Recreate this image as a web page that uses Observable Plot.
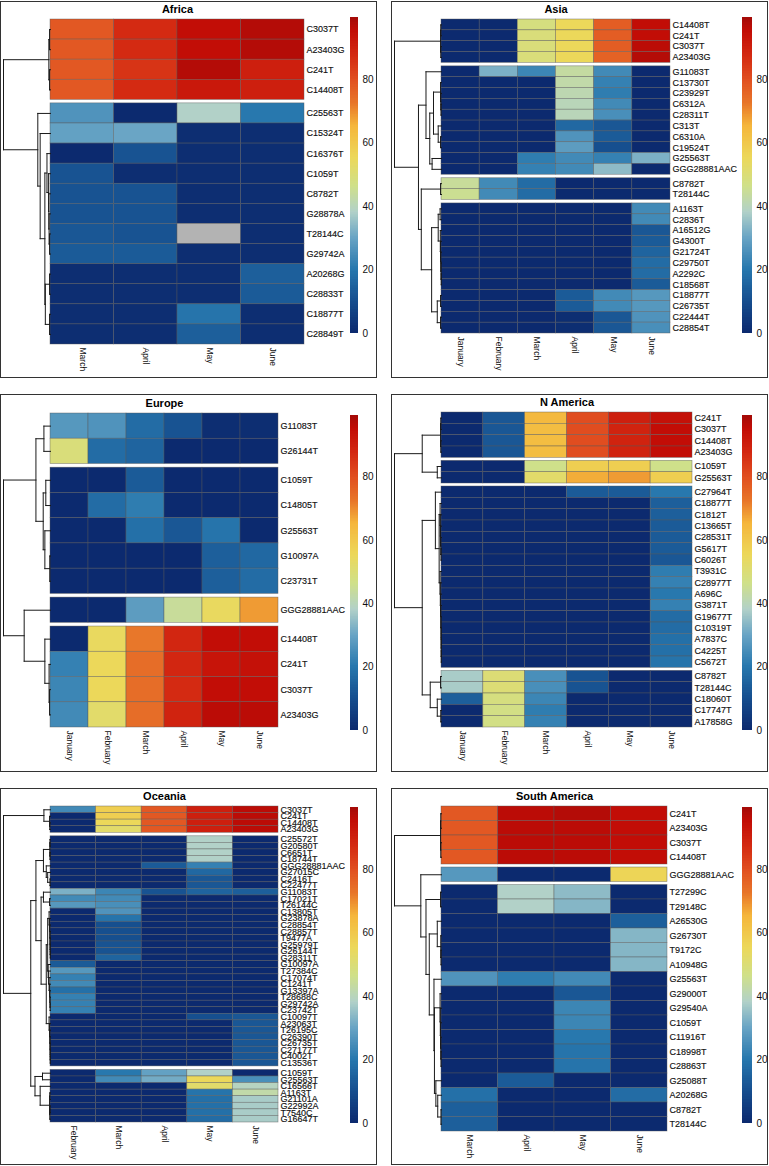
<!DOCTYPE html>
<html><head><meta charset="utf-8">
<script src="https://cdn.jsdelivr.net/npm/d3@7"></script>
<script src="https://cdn.jsdelivr.net/npm/@observablehq/plot@0.6"></script>
<style>
html,body{margin:0;padding:0;background:#fff}
#page{position:relative;width:769px;height:1166px;overflow:hidden;font-family:"Liberation Sans",Arial,sans-serif}
.box{position:absolute;box-sizing:border-box;border:1.5px solid #333}
#page svg{position:absolute;background:transparent;overflow:visible}
</style></head><body><div id="page"></div>
<script>
const colorStops = [0,10,20,30,38,46,55,65,72,80,87,95,100];
const colorRange = ["#0c2a6f","#164f8f","#2878ae","#6aa5c5","#b2d1c8","#cfe08a","#ecd85a","#f5b63c","#e8772a","#e04d20","#d42a12","#c20d06","#9e0a08"];
const scaleTicks = [0,20,40,60,80];

const africaMonths = ["March","April","May","June"];
const africaClusters = [4,12];
const africaRows = ["C3037T","A23403G","C241T","C14408T","C25563T","C15324T","C16376T","C1059T","C8782T","G28878A","T28144C","G29742A","A20268G","C28833T","C18877T","C28849T"];
const africaValues = [[78,87,95,97],[78,87,95,97],[78,85,97,90],[78,87,92,90],[26,0,38,20],[29,30,1,1],[0,11,1,1],[11,1,1,1],[11,11,1,1],[11,11,1,1],[12,11,null,1],[13,13,1,1],[1,1,1,14],[1,1,1,13],[1,1,19,1],[1,1,14,1]];
const africaTree = [100,[3.5,[2,0,1],[2,2,3]],[27,4,[22,5,[12,[7.5,6,[4,7,[3.5,8,[3,9,[2,10,11]]]]],[11,[2,12,13],[2,14,15]]]]]];

const asiaMonths = ["January","February","March","April","May","June"];
const asiaClusters = [4,10,2,12];
const asiaRows = ["C14408T","C241T","C3037T","A23403G","G11083T","C13730T","C23929T","C6312A","C28311T","C313T","C6310A","C19524T","G25563T","GGG28881AAC","C8782T","T28144C","A1163T","C2836T","A16512G","G4300T","G21724T","C29750T","A2292C","C18568T","C18877T","C26735T","C22444T","C28854T"];
const asiaValues = [[0,0,48,55,77,95],[0,0,49,55,77,95],[0,0,49,55,77,96],[0,0,49,55,76,97],[0,32,23,43,24,0],[0,0,0,42,22,0],[0,0,0,41,21,0],[0,0,0,40,24,0],[0,0,0,40,25,0],[0,0,0,16,12,0],[0,0,0,26,13,0],[0,0,0,28,10,0],[0,0,21,24,22,32],[0,0,22,24,34,0],[44,24,17,0,0,0],[45,24,17,0,0,0],[0,0,0,0,0,24],[0,0,0,0,0,24],[0,0,0,0,0,12],[0,0,0,0,0,13],[0,0,0,0,0,15],[0,0,0,0,0,17],[0,0,0,0,0,17],[0,0,0,0,0,13],[0,0,0,13,24,27],[0,0,0,13,24,27],[0,0,0,1,12,26],[0,0,0,1,12,25]];
const asiaTree = [100,[2,[1.5,0,1],[1.5,2,3]],[49,[33,4,[25,[17,[2,5,[1.5,6,[1,7,8]]],[7,9,[2,10,11]]],[20,12,13]]],[43,[2,14,15],[21,[7,[3,16,17],[2.5,18,[2,19,[1.5,20,[1,21,[.5,22,23]]]]]],[9,[2,24,25],[2,26,27]]]]]];

const europeMonths = ["January","February","March","April","May","June"];
const europeClusters = [2,5,1,4];
const europeRows = ["G11083T","G26144T","C1059T","C14805T","G25563T","G10097A","C23731T","GGG28881AAC","C14408T","C241T","C3037T","A23403G"];
const europeValues = [[27,26,17,11,1,1],[49,17,15,0,0,0],[0,0,13,0,0,0],[0,17,21,0,0,0],[0,0,18,12,19,0],[0,0,0,0,14,16],[0,0,0,0,14,17],[0,0,28,44,54,68],[0,54,72,88,95,95],[22,55,74,88,93,94],[23,55,74,87,95,95],[24,52,74,89,96,96]];
const europeTree = [100,[31,[14,0,1],[15.5,[10,2,3],[12,4,[1.5,5,6]]]],[56,7,[12,8,[3,9,[2,10,11]]]]];

const namericaMonths = ["January","February","March","April","May","June"];
const namericaClusters = [4,2,16,5];
const namericaRows = ["C241T","C3037T","C14408T","A23403G","C1059T","G25563T","C27964T","C18877T","C1812T","C13665T","C28531T","G5617T","C6026T","T3931C","C28977T","A696C","G3871T","G19677T","C10319T","A7837C","C4225T","C5672T","C8782T","T28144C","C18060T","C17747T","A17858G"];
const namericaValues = [[0,12,64,80,90,94],[0,12,63,80,89,95],[0,12,63,80,89,95],[0,12,63,80,89,95],[0,0,46,58,58,46],[0,0,52,66,68,58],[0,0,0,13,13,20],[0,0,0,0,0,14],[0,0,0,0,0,14],[0,0,0,0,0,13],[0,0,0,0,0,13],[0,0,0,0,0,13],[0,0,0,0,0,12],[0,0,0,0,0,21],[0,0,0,0,0,22],[0,0,0,0,0,20],[0,0,0,0,0,22],[0,0,0,0,0,17],[0,0,0,0,0,17],[0,0,0,0,0,18],[0,0,0,0,0,18],[0,0,0,0,0,19],[37,50,25,11,0,0],[37,50,25,11,0,0],[14,48,23,0,0,0],[0,47,21,0,0,0],[0,47,22,0,0,0]];
const namericaTree = [100,[41,[2,[1.5,0,1],[1.5,2,3]],[9,4,5]],[41,[13,6,[5,[3,7,[2.5,8,[2,9,[1.5,10,[1,11,12]]]]],[3,13,[2.5,14,[2,15,[1.5,16,[1,17,[.7,18,[.6,19,[.5,20,21]]]]]]]]]],[24,[2,22,23],[9,24,[1.5,25,26]]]]];

const oceaniaMonths = ["February","March","April","May","June"];
const oceaniaClusters = [4,35,8];
const oceaniaRows = ["C3037T","C241T","C14408T","A23403G","C25572T","G20580T","C6651T","C18744T","GGG28881AAC","G27015C","C2416T","C22477T","G11083T","C17021T","T26144C","C13805T","G23878A","C28854T","C28857T","T9477A","G25979T","G26144T","G28311T","G10097A","T27384C","C17074T","C1241T","G13397A","T28688C","G29742A","C23742T","C10097T","A23063T","T26195C","C26390T","C26735T","C27177T","C4002T","C13536T","C1059T","G25563T","C16566T","A1163T","G21101A","G22992A","T7540C","G16647T"];
const oceaniaValues = [[24,58,78,90,96],[0,58,78,90,96],[0,55,78,90,96],[0,52,78,90,96],[0,0,0,38,0],[0,0,0,38,0],[0,0,0,38,0],[0,0,0,38,0],[0,0,13,22,0],[0,0,0,16,0],[0,0,0,12,0],[0,0,0,12,0],[32,23,11,15,14],[24,24,0,0,0],[27,25,0,0,0],[0,26,0,0,0],[0,19,0,0,0],[0,10,0,0,0],[0,10,0,0,0],[0,10,0,0,0],[0,11,0,0,0],[0,11,0,0,0],[0,15,0,0,0],[13,0,0,0,0],[27,0,0,0,0],[22,0,0,0,0],[24,0,0,0,0],[18,0,0,0,0],[22,0,0,0,0],[22,0,0,0,0],[22,0,0,0,0],[0,0,0,10,12],[0,0,0,0,12],[0,0,0,0,12],[0,0,0,0,12],[0,0,0,0,12],[0,0,0,0,12],[0,0,0,0,12],[0,0,0,0,12],[0,20,29,38,0],[0,24,31,55,25],[0,0,0,52,39],[0,0,0,19,42],[0,0,0,18,37],[0,0,0,18,37],[0,0,0,18,37],[0,0,0,17,37]];
const oceaniaTree = [100,[14,0,[2,1,[1.5,2,3]]],[42,[31,[15,[1.5,[1,4,5],[1,6,7]],[9,8,[6,9,[1,10,11]]]],[20,[15,12,[2,13,14]],[9,[6,[3,15,[2,16,[1.5,17,[1,18,[1,19,[.7,20,[.5,21,22]]]]]]],[5,23,[4,24,[3,25,[2,26,[1.5,27,[1,28,[.7,29,30]]]]]]]],[3,31,[2,32,[1.5,33,[1,34,[.8,35,[.6,36,[.5,37,38]]]]]]]]]],[33,[17,39,40],[22,41,[2,[1.5,42,43],[1.5,[1,44,45],46]]]]]];

const samericaMonths = ["March","April","May","June"];
const samericaClusters = [4,1,17];
const samericaRows = ["C241T","A23403G","C3037T","C14408T","GGG28881AAC","T27299C","T29148C","A26530G","G26730T","T9172C","A10948G","G25563T","G29000T","G29540A","C1059T","C11916T","C18998T","C28863T","G25088T","A20268G","C8782T","T28144C"];
const samericaValues = [[78,96,97,95],[78,96,96,95],[78,96,96,95],[78,96,96,95],[27,0,0,56],[0,38,34,0],[0,38,33,0],[0,0,0,14],[0,0,0,33],[0,0,0,33],[0,0,0,33],[26,21,24,0],[0,0,12,0],[0,0,23,0],[0,0,23,0],[0,0,20,0],[0,0,19,0],[0,0,19,0],[0,13,0,0],[18,0,0,17],[14,0,0,0],[14,0,0,0]];
const samericaTree = [100,[2,[1.5,0,1],[1.5,2,3]],[44,4,[33,[2,5,6],[26,[9,7,[1.5,8,[1,9,10]]],[16,11,[15,[3,12,[2.5,13,[2,14,[1.5,15,[1,16,17]]]]],[12,18,[8,19,[1,20,21]]]]]]]]];

// Layout: box = frame, heat = heatmap rectangle, bar = colour-bar rectangle (page pixels)
const panels = [
 {title:"Africa",months:africaMonths,rows:africaRows,values:africaValues,clusters:africaClusters,tree:africaTree,
  box:[0,1,377,377],heat:[50,304,19,344],gap:3.5,bar:[350,358,17,333]},
 {title:"Asia",months:asiaMonths,rows:asiaRows,values:asiaValues,clusters:asiaClusters,tree:asiaTree,
  box:[391,1,377,377],heat:[441,670,19,333],gap:3.5,bar:[742,752,17,333]},
 {title:"Europe",months:europeMonths,rows:europeRows,values:europeValues,clusters:europeClusters,tree:europeTree,
  box:[0,394,377,378],heat:[50,278,413,727],gap:3.7,bar:[350,358,415,730]},
 {title:"N America",months:namericaMonths,rows:namericaRows,values:namericaValues,clusters:namericaClusters,tree:namericaTree,
  box:[391,394,377,378],heat:[441,692,412,727],gap:3,bar:[742,752,415,730]},
 {title:"Oceania",months:oceaniaMonths,rows:oceaniaRows,values:oceaniaValues,clusters:oceaniaClusters,tree:oceaniaTree,
  box:[0,788,377,377],heat:[50,278,806,1122],gap:3.5,bar:[350,358,807,1123]},
 {title:"South America",months:samericaMonths,rows:samericaRows,values:samericaValues,clusters:samericaClusters,tree:samericaTree,
  box:[391,788,377,377],heat:[441,667,806,1131],gap:3,bar:[742,752,807,1123]}
];

const color = {type:"linear",domain:colorStops,range:colorRange,interpolate:"rgb",unknown:"#b3b3b3"};
const FONT = '"Liberation Sans",Arial,sans-serif';
const page = document.getElementById("page");

function drawPanel(p){
  const [bx,by,bw,bh] = p.box, [hl,hr,ht,hb] = p.heat;
  const n = p.months.length, N = p.rows.length;
  const rowPx = (hb-ht-(p.clusters.length-1)*p.gap)/N;
  const g = p.gap/rowPx;
  // row → position along the y scale, with a gap between clusters
  const pos = []; let ci=0, left=p.clusters[0];
  for(let i=0;i<N;i++){ if(left===0){ci++;left=p.clusters[ci];} pos.push(i+ci*g); left--; }
  const total = N+(p.clusters.length-1)*g;
  const cells = p.rows.flatMap((r,i)=>p.months.map((m,j)=>({r,m,j,i,y1:pos[i],v:p.values[i][j]})));
  // dendrogram segments from the nested merges
  const dendroUnits = n*(hl-bx-3)/(hr-hl)/100;
  const segs = [];
  const walk = t=>{
    if(typeof t==="number") return {h:0,y:pos[t]+.5};
    const [h,a,b]=t, A=walk(a), B=walk(b);
    segs.push({x1:-h*dendroUnits,x2:-h*dendroUnits,y1:A.y,y2:B.y});
    segs.push({x1:-A.h*dendroUnits,x2:-h*dendroUnits,y1:A.y,y2:A.y});
    segs.push({x1:-B.h*dendroUnits,x2:-h*dendroUnits,y1:B.y,y2:B.y});
    return {h,y:(A.y+B.y)/2};
  };
  walk(p.tree);

  const fig = Plot.plot({
    width:bw,height:bh,
    marginLeft:hl-bx,marginRight:bx+bw-hr,marginTop:ht-by,marginBottom:by+bh-hb,
    x:{domain:[0,n],axis:null},
    y:{domain:[0,total],range:[ht-by,hb-by],axis:null},
    color,
    style:{background:"transparent",fontFamily:FONT},
    marks:[
      Plot.rect(cells,{x1:"j",x2:d=>d.j+1,y1:"y1",y2:d=>d.y1+1,fill:"v",stroke:"#5a5a5a",strokeWidth:.6,strokeOpacity:.7}),
      Plot.link(segs,{x1:"x1",x2:"x2",y1:"y1",y2:"y2",stroke:"#1a1a1a",strokeWidth:1,strokeLinecap:"square"}),
      Plot.text(p.rows,{x:n,y:(d,i)=>pos[i]+.5,dx:2,text:d=>d,textAnchor:"start",fontSize:9,fill:"#111",stroke:"#111",strokeWidth:.15}),
      Plot.text(p.months,{x:(d,i)=>i+.5,frameAnchor:"bottom",dy:3,rotate:90,text:d=>d,textAnchor:"start",lineAnchor:"middle",fontSize:8.5,fill:"#111"}),
      Plot.text([p.title],{x:n/2,frameAnchor:"top",dy:-10,lineAnchor:"middle",text:d=>d,fontSize:11,fontWeight:"bold",fill:"#000"})
    ]
  });
  fig.style.left=bx+"px"; fig.style.top=by+"px";

  const box=document.createElement("div"); box.className="box";
  box.style.cssText=`left:${bx}px;top:${by}px;width:${bw}px;height:${bh}px`;
  page.append(box,fig);

  const [l,r,t,b]=p.bar, ramp=d3.range(0,99.5,.5);
  const bar = Plot.plot({
    width:40,height:b-t,marginLeft:0,marginRight:40-(r-l),marginTop:0,marginBottom:0,
    x:{axis:null,domain:[0,1]},
    y:{domain:[0,99.5],axis:null},
    color,
    style:{background:"transparent",fontFamily:FONT},
    marks:[
      Plot.rect(ramp,{x1:0,x2:1,y1:d=>d,y2:d=>Math.min(d+1,99.5),fill:d=>d}),
      Plot.axisY(scaleTicks,{anchor:"right",tickSize:0,tickPadding:4,fontSize:10,fill:"#111",label:null})
    ]
  });
  bar.style.left=l+"px"; bar.style.top=t+"px";
  page.append(bar);
}
panels.forEach(drawPanel);
</script></body></html>
